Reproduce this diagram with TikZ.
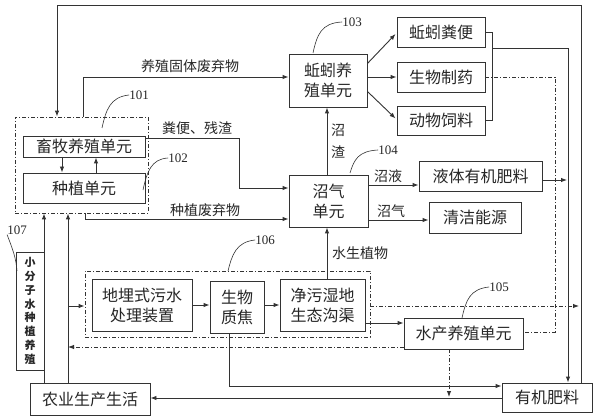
\documentclass[tikz,border=0pt]{standalone}
\usepackage{fontspec}
\setmainfont{Liberation Serif}
\newfontfamily\cjk{Noto Sans CJK SC}
\usetikzlibrary{arrows.meta,calc}
\begin{document}
\begin{tikzpicture}[x=1pt,y=-1pt,
  box/.style={draw=black!80,line width=0.9pt,inner sep=0pt,font=\cjk\fontsize{16}{20}\selectfont,align=center,text=black!85},
  grp/.style={draw=black!80,line width=0.8pt,dash pattern=on 4pt off 2pt on 1pt off 2pt},
  ln/.style={draw=black!80,line width=0.9pt},
  arr/.style={ln,-{Latex[length=6pt,width=4.5pt]}},
  dd/.style={dash pattern=on 4pt off 2pt on 1pt off 2pt},
  lab/.style={font=\cjk\fontsize{14}{22}\selectfont,text=black!85,inner sep=0pt,align=center},
  num/.style={font=\fontsize{13}{15}\selectfont,inner sep=0pt,text=black!85},
  lead/.style={draw=black!80,line width=0.6pt}]
\useasboundingbox (0,0) rectangle (594,419);
% groups
\node[grp,minimum width=133pt,minimum height=96pt] (g1) at (81.5,165) {};
\node[grp,minimum width=285pt,minimum height=66pt] (g2) at (227.5,304) {};
% boxes
\node[box,minimum width=122pt,minimum height=21pt] (xumu) at (84,146.5) {畜牧养殖单元};
\node[box,minimum width=122pt,minimum height=30pt] (zhongzhi) at (84,188) {种植单元};
\node[box,minimum width=78pt,minimum height=53pt] (qiuyin) at (328,80.5) {蚯蚓养\\殖单元};
\node[box,minimum width=88pt,minimum height=30pt] (fenbian) at (441,32) {蚯蚓粪便};
\node[box,minimum width=88pt,minimum height=30pt] (zhiyao) at (441,77) {生物制药};
\node[box,minimum width=88pt,minimum height=29pt] (siliao) at (441,120.5) {动物饲料};
\node[box,minimum width=79pt,minimum height=52pt] (zhaoqi) at (328.5,201) {沼气\\单元};
\node[box,minimum width=123pt,minimum height=30pt] (yeti) at (480.5,176) {液体有机肥料};
\node[box,minimum width=92pt,minimum height=31pt] (qingjie) at (475,217.5) {清洁能源};
\node[box,minimum width=100pt,minimum height=52pt] (dimai) at (142,305) {地埋式污水\\处理装置};
\node[box,minimum width=54pt,minimum height=52pt] (jiao) at (237,307) {生物\\质焦};
\node[box,minimum width=85pt,minimum height=52pt] (jingwu) at (322.5,305) {净污湿地\\生态沟渠};
\node[box,minimum width=119pt,minimum height=31pt] (shuichan) at (463.5,333.5) {水产养殖单元};
\node[box,minimum width=90pt,minimum height=29pt] (youji) at (547,397.5) {有机肥料};
\node[box,minimum width=120pt,minimum height=32pt] (nongye) at (90,399) {农业生产生活};
\node[box,minimum width=28pt,minimum height=118pt,font=\cjk\bfseries\fontsize{11}{13.8}\selectfont] (b107) at (30,311) {小\\分\\子\\水\\种\\植\\养\\殖};
% coordinates
\coordinate (cR) at (581,5);
\coordinate (cL) at (57,5);
\coordinate (c4) at (83,77);
\coordinate (c5a) at (239,138);
\coordinate (c5b) at (239,188);
\coordinate (c6a) at (85,219);
\coordinate (c7) at (327,0);
\coordinate (br) at (492,0);
\coordinate (c12a) at (492,48);
\coordinate (c12b) at (568,48);
\coordinate (c13a) at (555,77);
\coordinate (c13b) at (555,332);
\coordinate (c14) at (0,185);
\coordinate (c15) at (567,180);
\coordinate (c16) at (0,220);
\coordinate (c18) at (0,305);
\coordinate (c19) at (0,323);
\coordinate (c20) at (579,306);
\coordinate (c21) at (68,347);
\coordinate (c22) at (449,397);
\coordinate (c23) at (229,386);
\coordinate (c24) at (0,398);
\coordinate (c25a) at (44,0);
\coordinate (c25b) at (68,0);
\coordinate (c26) at (68,306);
% connectors
\draw[arr] (youji.north -| cR) -- (cR) -- (cL) -- (g1.north -| cL);
\draw[arr] ([xshift=-22pt]xumu.south) -- ([xshift=-22pt]zhongzhi.north);
\draw[arr] ([xshift=12pt]zhongzhi.north) -- ([xshift=12pt]xumu.south);
\draw[arr] (g1.north -| c4) -- (c4) -- (qiuyin.west |- c4);
\draw[arr] (xumu.east |- c5a) -- (c5a) -- (c5b) -- (zhaoqi.west |- c5b);
\draw[arr] (g1.south -| c6a) -- (c6a) -- (zhaoqi.west |- c6a);
\draw[arr] (zhaoqi.north -| c7) -- (qiuyin.south -| c7);
\draw[arr] ([yshift=17pt]qiuyin.east) -- ([xshift=-1pt,yshift=-2pt]fenbian.west);
\draw[arr] (qiuyin.east |- zhiyao.west) -- (zhiyao.west);
\draw[arr] ([yshift=-11pt]qiuyin.east) -- ([xshift=-1pt,yshift=2pt]siliao.west);
\draw[ln] (fenbian.east) -- (fenbian.east -| br) -- (siliao.east -| br) -- (siliao.east);
\draw[arr] (c12a) -- (c12b) -- (youji.north -| c12b);
\draw[ln,dd] (zhiyao.east) -- (c13a) -- (c13b) -- (shuichan.east |- c13b);
\draw[arr] (zhaoqi.east |- c14) -- (yeti.west |- c14);
\draw[arr] (yeti.east |- c15) -- (c15);
\draw[arr] (zhaoqi.east |- c16) -- (qingjie.west |- c16);
\draw[arr] (jingwu.north -| c7) -- (zhaoqi.south -| c7);
\draw[arr] (dimai.east |- c18) -- (jiao.west |- c18);
\draw[arr] (jiao.east |- c18) -- (jingwu.west |- c18);
\draw[arr] (jingwu.east |- c19) -- (shuichan.west |- c19);
\draw[arr,dd] (g2.east |- c20) -- (c20);
\draw[arr,dd] (shuichan.west |- c21) -- (c21);
\draw[arr,dd] (shuichan.south -| c22) -- (c22);
\draw[arr] (jiao.south -| c23) -- (c23) -- (youji.west |- c23);
\draw[arr] (youji.west |- c24) -- (nongye.east |- c24);
\draw[arr] (nongye.north -| c25a) -- (g1.south -| c25a);
\draw[arr] (nongye.north -| c25b) -- (g1.south -| c25b);
\draw[arr] (c26) -- (g2.west |- c26);
% labels
\node[lab] (l1) at (190,66) {养殖固体废弃物};
\node[lab] (l2) at (197,128) {粪便、残渣};
\node[lab] (l3) at (205,210) {种植废弃物};
\node[lab] (l4) at (338,141) {沼\\渣};
\node[lab] (l5) at (388,176) {沼液};
\node[lab] (l6) at (391,211) {沼气};
\node[lab] (l7) at (360,253) {水生植物};
% numbers and leaders
\node[num] (n101) at (139,95) {101};
\node[num] (n102) at (178,158) {102};
\node[num] (n103) at (352,22) {103};
\node[num] (n104) at (388,150) {104};
\node[num] (n105) at (499,287) {105};
\node[num] (n106) at (265,240) {106};
\node[num] (n107) at (17,230) {107};
\draw[lead] (102,128) .. controls (106,110) and (110,97) .. (n101.west);
\draw[lead] (143,190) .. controls (147,172) and (151,159) .. (n102.west);
\draw[lead] (313,53) .. controls (317,35) and (321,23) .. (n103.west);
\draw[lead] (350,173) .. controls (354,160) and (358,151) .. (n104.west);
\draw[lead] (462,318) .. controls (466,300) and (470,289) .. (n105.west);
\draw[lead] (228,271) .. controls (232,255) and (236,242) .. (n106.west);
\draw[lead] (17,271) .. controls (16,258) and (13,250) .. (n107.south west);
\end{tikzpicture}
\end{document}
